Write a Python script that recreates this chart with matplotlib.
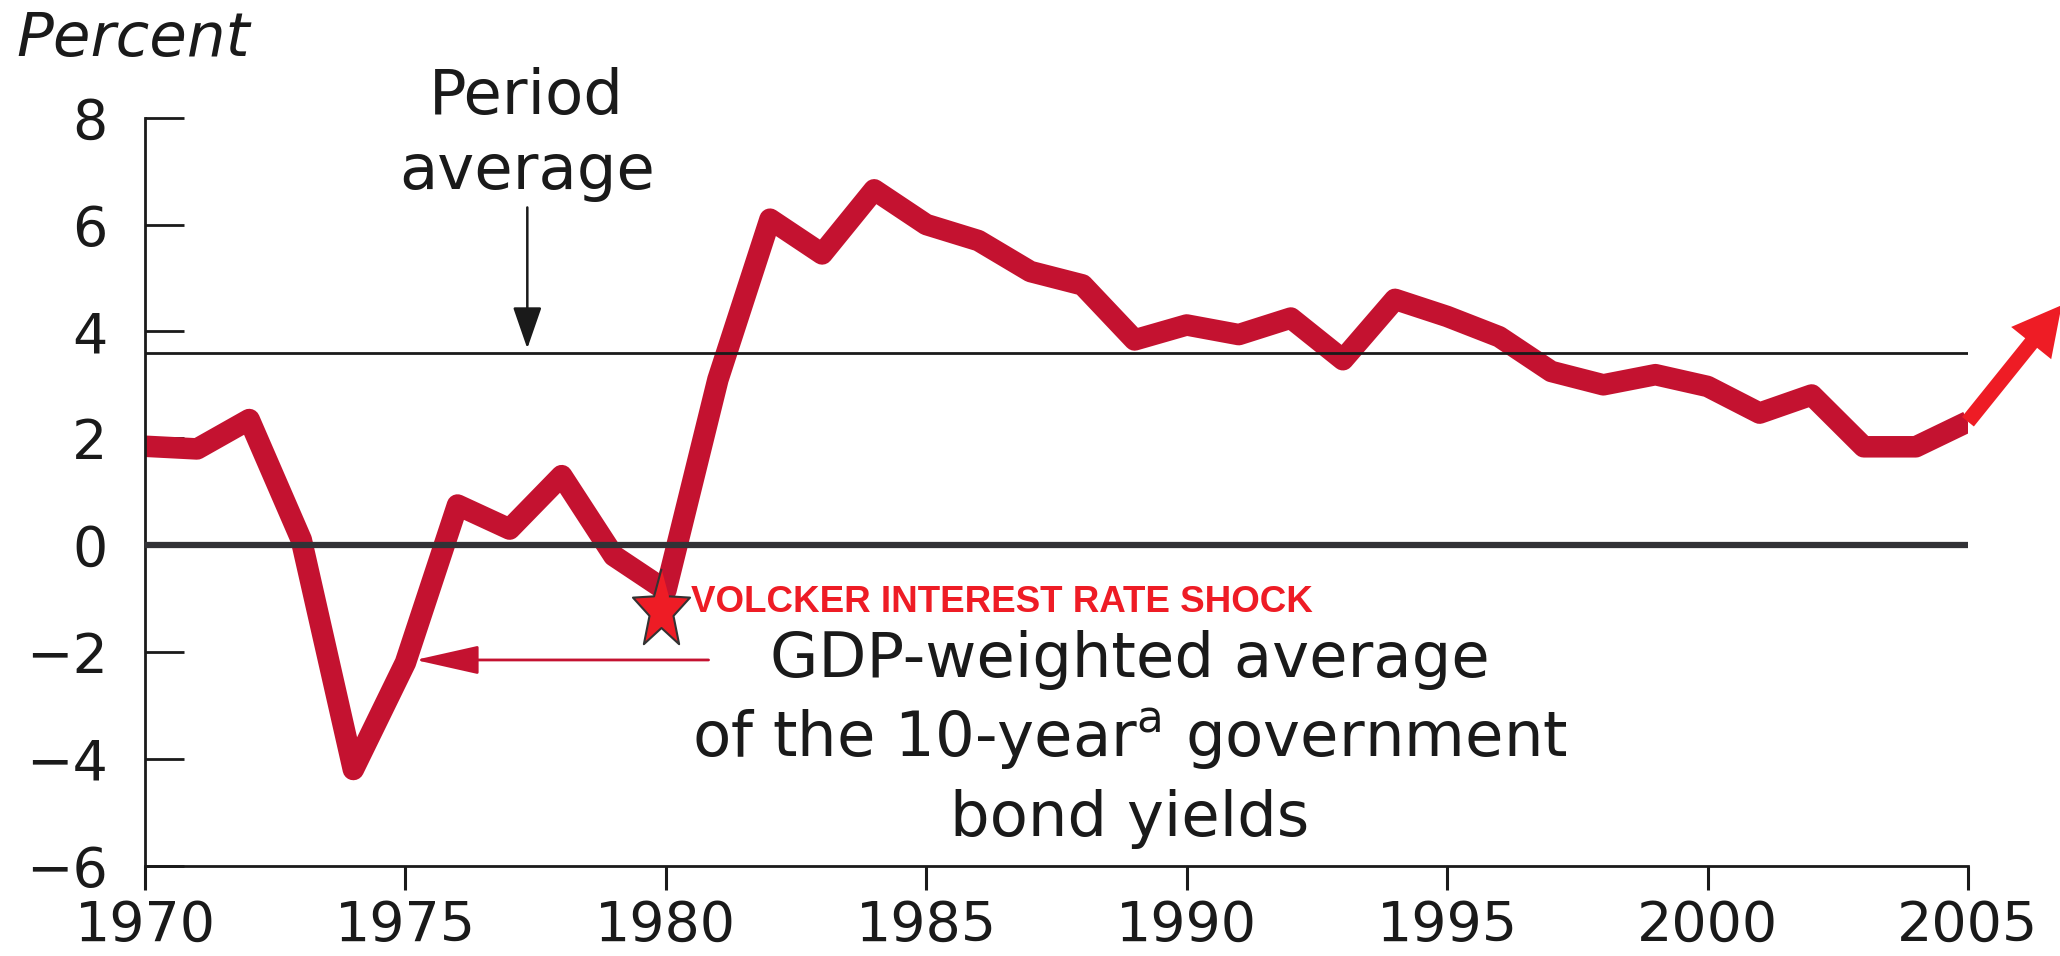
import numpy as np
import matplotlib
matplotlib.use('Agg')
import matplotlib.pyplot as plt
from matplotlib.path import Path

plt.rcParams['font.family'] = 'DejaVu Sans'
plt.rcParams['mathtext.fontset'] = 'dejavusans'

# GDP-weighted average of 10-year government bond yields (percent)
years = list(range(1970, 2006))
yields = [1.85, 1.8, 2.35, 0.1, -4.2, -2.2, 0.75, 0.3, 1.3, -0.2,
          -0.85, 3.1, 6.1, 5.45, 6.65, 6.0, 5.7, 5.12, 4.87, 3.84,
          4.12, 3.94, 4.25, 3.47, 4.6, 4.28, 3.9, 3.25, 3.0, 3.19,
          2.97, 2.47, 2.81, 1.84, 1.84, 2.31]
period_avg = 3.6
trend_end = (2006.8, 4.49)
shock = (1979.91, -1.22)
y_ticks = [-6, -4, -2, 0, 2, 4, 6, 8]
x_ticks = [1970, 1975, 1980, 1985, 1990, 1995, 2000, 2005]

line_red = '#C41230'
bright_red = '#EE1C25'

fig = plt.figure(figsize=(20.6, 9.56), dpi=100)
ax = fig.add_axes([0.0704, 0.0945, 0.8849, 0.7824])

ax.plot(years, yields, color=line_red, lw=15.5, solid_joinstyle='round',
        solid_capstyle='butt', zorder=2)
ax.axhline(0, color='#323236', lw=4.5, zorder=3)
ax.axhline(period_avg, color='#1a1a1a', lw=2, zorder=3)

# trend arrow after 2005
ax.annotate('', xy=trend_end, xytext=(years[-1], yields[-1]),
            arrowprops=dict(width=11, headwidth=37, headlength=35,
                            facecolor=bright_red, edgecolor='none', shrink=0),
            annotation_clip=False, zorder=4)

# narrow star marker for the Volcker shock
ang = np.pi / 2 + np.arange(10) * np.pi / 5
rad = np.where(np.arange(10) % 2 == 0, 1.0, 0.42)
star = Path(np.column_stack([0.72 * rad * np.cos(ang), rad * np.sin(ang)]))
ax.plot([shock[0]], [shock[1]], marker=star, ms=60, color=bright_red,
        mec='#333333', mew=1.5, ls='none', zorder=5, clip_on=False)
ax.text(1980.49, -1.25, 'VOLCKER INTEREST RATE SHOCK', color=bright_red,
        fontsize=26.5, fontweight='bold', family='Liberation Sans',
        va='baseline', ha='left', zorder=5)

# labels
ax.text(1977.33, 8.94, 'Period\naverage', ha='center', va='top',
        fontsize=45, linespacing=1.31, color='#1a1a1a')
ax.annotate('', xy=(1977.34, 3.68), xytext=(1977.34, 6.32),
            arrowprops=dict(arrowstyle='-|>,head_length=2.6,head_width=0.9',
                            mutation_scale=10, color='#1a1a1a', lw=1.8,
                            shrinkA=0, shrinkB=0))
ax.text(1988.9, -1.58, 'GDP-weighted average\nof the 10-year$^{\\rm a}$ government\nbond yields',
        ha='center', va='top', fontsize=45, linespacing=1.35, color='#1a1a1a')
ax.annotate('', xy=(1975.19, -2.15), xytext=(1980.82, -2.15),
            arrowprops=dict(arrowstyle='-|>,head_length=4,head_width=0.9',
                            mutation_scale=10, color=line_red, lw=2,
                            shrinkA=0, shrinkB=0))

fig.text(16 / 2060, 1 - 10 / 956, 'Percent', fontsize=44, style='italic',
         ha='left', va='top', color='#1a1a1a')

ax.set_xlim(1970, 2005)
ax.set_ylim(-6, 8)
ax.set_xticks(x_ticks)
ax.set_yticks(y_ticks)
ax.set_yticklabels(['\u2212' + str(-v) if v < 0 else str(v) for v in y_ticks])
ax.tick_params(axis='y', direction='in', length=28, width=2, pad=27,
               labelsize=40, colors='#1a1a1a')
ax.tick_params(axis='x', direction='out', length=17, width=2.2, pad=7,
               labelsize=40, colors='#1a1a1a')
for s in ['top', 'right']:
    ax.spines[s].set_visible(False)
for s in ['left', 'bottom']:
    ax.spines[s].set_linewidth(2)
    ax.spines[s].set_color('#1a1a1a')

fig.savefig('out.png', dpi=100)
